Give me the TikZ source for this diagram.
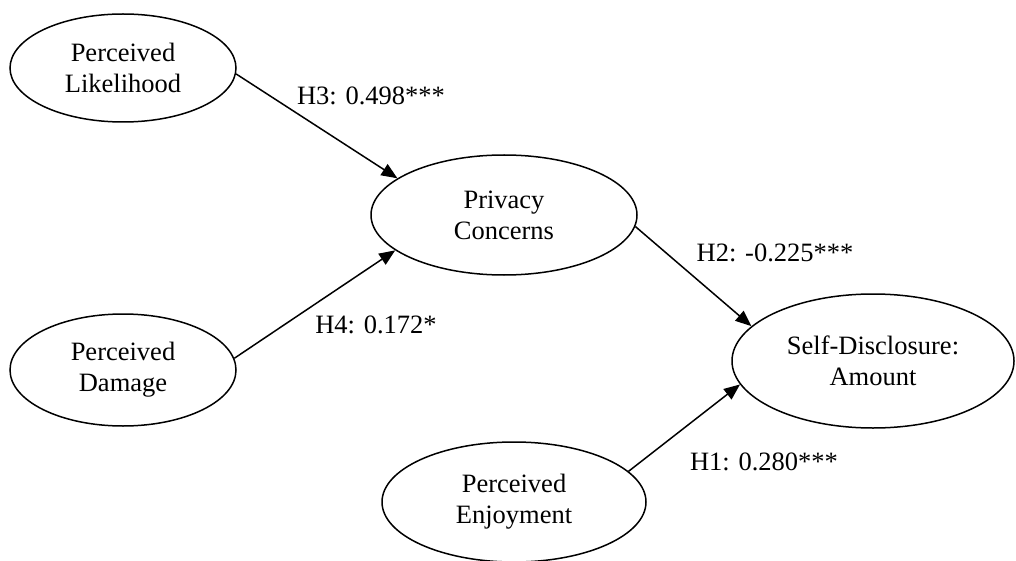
\documentclass[tikz,border=0pt]{standalone}
\usepackage{fontspec}
\setmainfont{Liberation Serif}
\usetikzlibrary{shapes.geometric,arrows.meta}
\begin{document}
\begin{tikzpicture}[x=1pt,y=-1pt,
  construct/.style={ellipse,draw,line width=1.5pt,inner sep=0pt,align=center,
    font=\fontsize{26.5}{31}\selectfont},
  path/.style={line width=1.5pt,-{Triangle[length=16pt,width=13pt]}},
  coef/.style={font=\fontsize{26.5}{31}\selectfont,inner sep=0pt}]
\useasboundingbox (0,0) rectangle (1016,561);

% latent constructs
\node[construct,minimum width=226pt,minimum height=108pt] (PL) at (123,68)  {Perceived\\Likelihood};
\node[construct,minimum width=226pt,minimum height=112pt] (PD) at (123,370) {Perceived\\Damage};
\node[construct,minimum width=266pt,minimum height=120pt] (PC) at (504,215) {Privacy\\Concerns};
\node[construct,minimum width=282pt,minimum height=134pt] (SD) at (873,361) {Self-Disclosure:\\Amount};
\node[construct,minimum width=264pt,minimum height=120pt] (PE) at (514,502) {Perceived\\Enjoyment};

% structural paths
\draw[path] (PL.-3)  -- (PC.161.7);
\draw[path] (PD.6)   -- (PC.198.7);
\draw[path] (PC.-5)  -- (SD.164.7);
\draw[path] (PE.15.2) -- (SD.190.4);

% path coefficients
\node[coef] (c3) at (371,96)  {H3: 0.498***};
\node[coef] (c4) at (376,325) {H4: 0.172*};
\node[coef] (c2) at (775,253) {H2: -0.225***};
\node[coef] (c1) at (764,462) {H1: 0.280***};
\end{tikzpicture}
\end{document}
